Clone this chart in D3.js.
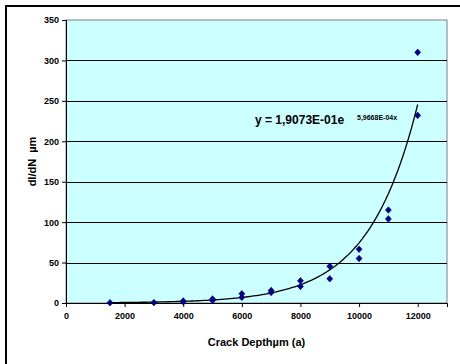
<!DOCTYPE html>
<html>
<head>
<meta charset="utf-8">
<script src="https://cdn.jsdelivr.net/npm/d3@7"></script>
<style>
  body { margin: 0; background: #fff; }
  text { font-family: Arial, "Liberation Sans", sans-serif; font-weight: bold; }
</style>
</head>
<body>
<svg id="chart" width="460" height="364"></svg>
<script>
// measured points (crack depth, dI/dN)
const depth = [1500, 3000, 4000, 4000, 5000, 5000, 6000, 6000, 7000, 7000,
               8000, 8000, 9000, 9000, 10000, 10000, 11000, 11000, 12000, 12000];
const rate  = [0.3, 0.5, 2.5, 1.5, 5, 3, 11.5, 7, 15.5, 13,
               27.5, 20.5, 45.5, 30, 66.5, 55, 115, 104, 310, 232];

// exponential trend line: y = a * e^(b x)
const trendCoef = [1.9073e-1, 5.9668e-4];
const trendRange = [1500, 12000];

const xTicks = [0, 2000, 4000, 6000, 8000, 10000, 12000];
const yTicks = [0, 50, 100, 150, 200, 250, 300, 350];

const svg = d3.select("#chart");
const margin = { top: 20, right: 13, bottom: 61, left: 66 };
const width = +svg.attr("width") - margin.left - margin.right;
const height = +svg.attr("height") - margin.top - margin.bottom;

// outer frame (only left/top visible in the crop)
svg.append("rect")
  .attr("x", 6).attr("y", 6)
  .attr("width", 470).attr("height", 380)
  .attr("fill", "none")
  .attr("stroke", "#000")
  .attr("stroke-width", 2);

const g = svg.append("g")
  .attr("transform", `translate(${margin.left},${margin.top})`);

const x = d3.scaleLinear().domain([0, 13000]).range([0, width]);
const y = d3.scaleLinear().domain([0, 350]).range([height, 0]);

// plot area
g.append("rect")
  .attr("width", width).attr("height", height)
  .attr("fill", "#ccffff")
  .attr("stroke", "#808080")
  .attr("stroke-width", 1);

// gridlines
g.selectAll(".grid")
  .data(yTicks.filter(d => d > 0 && d < 350))
  .enter()
  .append("line")
  .attr("x1", 0).attr("x2", width)
  .attr("y1", d => Math.round(y(d)) + 0.5)
  .attr("y2", d => Math.round(y(d)) + 0.5)
  .attr("stroke", "#000")
  .attr("stroke-width", 1);

// axes
const yAxis = g.append("g")
  .call(d3.axisLeft(y).tickValues(yTicks).tickSize(4).tickPadding(3).tickFormat(d3.format("d")));
const xAxis = g.append("g")
  .attr("transform", `translate(0,${height})`)
  .call(d3.axisBottom(x).tickValues(xTicks).tickSize(4).tickPadding(6).tickFormat(d3.format("d")));

[xAxis, yAxis].forEach(a => {
  a.select(".domain").attr("stroke", "#000");
  a.selectAll(".tick line").attr("stroke", "#000");
  a.selectAll(".tick text")
    .attr("fill", "#000")
    .style("font-size", "9px")
    .style("font-family", "Arial, 'Liberation Sans', sans-serif")
    .style("font-weight", "bold");
});

// trend line
const a = trendCoef[0], b = trendCoef[1];
const trendX = d3.range(trendRange[0], trendRange[1] + 1, 100);
g.append("path")
  .attr("d", d3.line()(trendX.map(v => [x(v), y(a * Math.exp(b * v))])))
  .attr("fill", "none")
  .attr("stroke", "#000")
  .attr("stroke-width", 1.3);

// diamond markers (Excel style, about as wide as tall)
g.selectAll(".pt")
  .data(depth.map((d, i) => [d, rate[i]]))
  .enter()
  .append("path")
  .attr("d", "M0,-3.3L3,0L0,3.3L-3,0Z")
  .attr("transform", d => `translate(${x(d[0])},${y(d[1])})`)
  .attr("fill", "#000080")
  .attr("stroke", "#000080")
  .attr("stroke-width", 0.6)
  .attr("stroke-linejoin", "round");

// equation label
g.append("text")
  .attr("x", 189)
  .attr("y", 104)
  .style("font-size", "12px")
  .text("y = 1,9073E-01e");
g.append("text")
  .attr("x", 291)
  .attr("y", 100)
  .style("font-size", "7px")
  .text("5,9668E-04x");

// axis titles
svg.append("text")
  .attr("x", margin.left + width / 2)
  .attr("y", 346)
  .attr("text-anchor", "middle")
  .style("font-size", "11px")
  .text("Crack Depth\u00b5m (a)");

svg.append("text")
  .attr("transform", `translate(36,${margin.top + height / 2}) rotate(-90)`)
  .attr("text-anchor", "middle")
  .style("font-size", "11px")
  .text("dI/dN \u00a0\u00b5m");
</script>
</body>
</html>
